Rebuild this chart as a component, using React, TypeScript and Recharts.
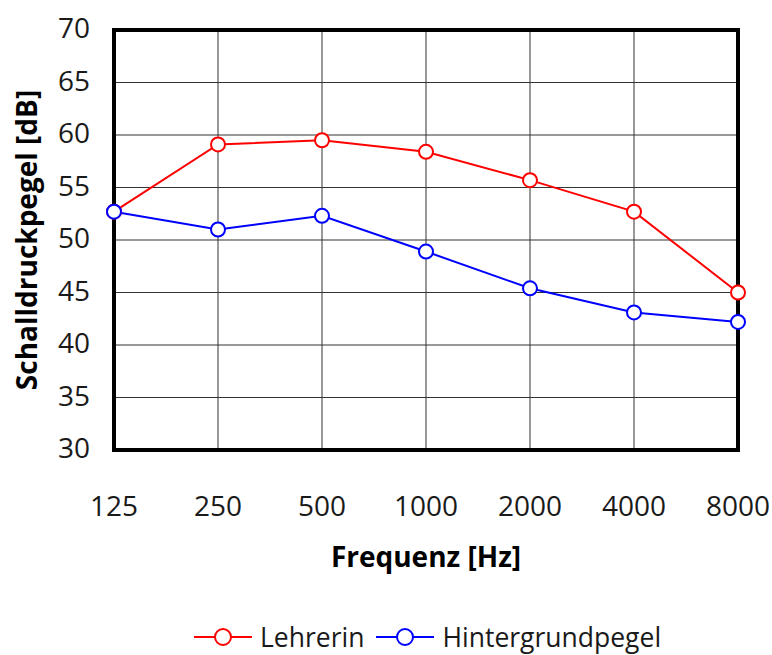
import React from "react";
import {
  LineChart,
  Line,
  XAxis,
  YAxis,
  CartesianGrid,
  Legend,
  ReferenceArea,
} from "recharts";

const frequencies = ["125", "250", "500", "1000", "2000", "4000", "8000"];
const lehrerin = [52.7, 59.1, 59.5, 58.4, 55.7, 52.7, 45.0];
const hintergrund = [52.7, 51.0, 52.3, 48.9, 45.4, 43.1, 42.2];
const yTicks = [30, 35, 40, 45, 50, 55, 60, 65, 70];

const data = frequencies.map((f, i) => ({
  f,
  lehrerin: lehrerin[i],
  hintergrund: hintergrund[i],
}));

const FONT = "'Open Sans', 'DejaVu Sans', sans-serif";
const TXT = "#1a1a1a";

const YTick = (props: any) => {
  const { x, y, payload } = props;
  return (
    <text x={x} y={y - 3} textAnchor="end" dominantBaseline="central" fontSize={28} fill={TXT} fontFamily={FONT}>
      {payload.value}
    </text>
  );
};

const XTick = (props: any) => {
  const { x, y, payload } = props;
  return (
    <text x={x} y={y + 47} textAnchor="middle" dominantBaseline="central" fontSize={28} fill={TXT} fontFamily={FONT}>
      {payload.value}
    </text>
  );
};

const LegendContent = (props: any) => {
  const items = [
    { label: "Lehrerin", color: "#ff0000", gap: 12 },
    { label: "Hintergrundpegel", color: "#0000ff", gap: 0 },
  ];
  return (
    <div style={{ display: "flex", justifyContent: "flex-start", alignItems: "center", fontFamily: FONT, fontSize: 26.5, lineHeight: "30px", color: TXT, paddingTop: 39, paddingLeft: 194, boxSizing: "border-box", height: 75 }}>
      {items.map((it) => (
        <div key={it.label} style={{ display: "flex", alignItems: "center", marginRight: it.gap }}>
          <svg width={58} height={20}>
            <line x1={0} y1={10} x2={58} y2={10} stroke={it.color} strokeWidth={2} />
            <circle cx={29} cy={10} r={8} fill="#fff" stroke={it.color} strokeWidth={2} />
          </svg>
          <span style={{ marginLeft: 8 }}>{it.label}</span>
        </div>
      ))}
    </div>
  );
};

export default function App() {
  return (
    <div style={{ width: 772, height: 655 }}>
      <style>{"body{margin:0}"}</style>
      <LineChart width={772} height={655} data={data} margin={{ top: 30, right: 34, left: 0, bottom: 0 }}>
        <CartesianGrid stroke="#333" strokeWidth={1} vertical={true} horizontal={true} />
        <ReferenceArea x1="125" x2="8000" y1={30} y2={70} fill="none" stroke="#000" strokeWidth={4} ifOverflow="visible" />
        <XAxis
          dataKey="f"
          height={130}
          axisLine={false}
          tickLine={false}
          tick={<XTick />}
          interval={0}
          label={{ value: "Frequenz [Hz]", position: "insideBottom", offset: 13, style: { fontFamily: FONT, fontWeight: 700, fontSize: 28, fill: "#000" } }}
        />
        <YAxis
          domain={[30, 70]}
          ticks={yTicks}
          width={114}
          axisLine={false}
          tickLine={false}
          tickSize={0}
          tickMargin={24}
          tick={<YTick />}
          interval={0}
          label={{ value: "Schalldruckpegel [dB]", angle: -90, position: "insideLeft", offset: 27, style: { textAnchor: "middle", fontFamily: FONT, fontWeight: 700, fontSize: 28, fill: "#000" } }}
        />
        <Legend verticalAlign="bottom" height={75} content={<LegendContent />} />
        <Line
          dataKey="lehrerin"
          stroke="#ff0000"
          strokeWidth={2}
          dot={{ r: 7, fill: "#fff", stroke: "#ff0000", strokeWidth: 2 }}
          isAnimationActive={false}
        />
        <Line
          dataKey="hintergrund"
          stroke="#0000ff"
          strokeWidth={2}
          dot={{ r: 7, fill: "#fff", stroke: "#0000ff", strokeWidth: 2 }}
          isAnimationActive={false}
        />
      </LineChart>
    </div>
  );
}
